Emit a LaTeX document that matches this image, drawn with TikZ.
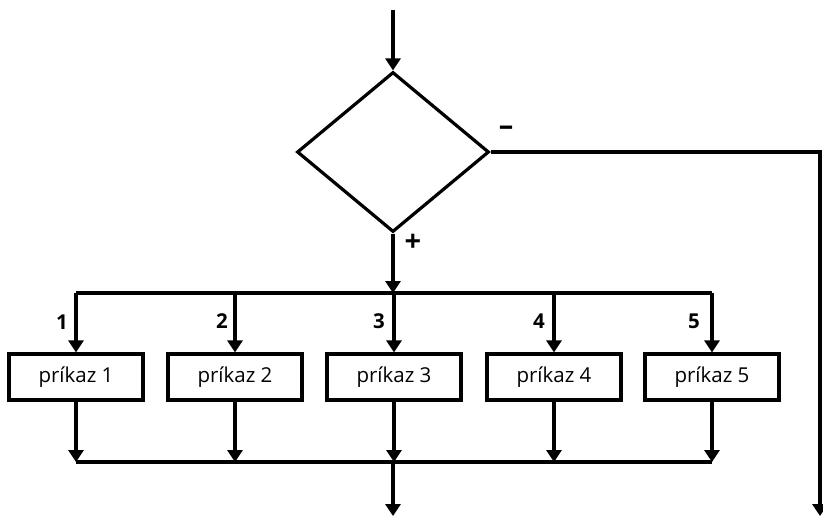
\documentclass[tikz,border=0pt]{standalone}
\usepackage{fontspec}
\setmainfont{Open Sans}
\usetikzlibrary{arrows.meta,shapes.geometric}
\begin{document}
\begin{tikzpicture}[x=1pt,y=-1pt,
  line width=3.2pt,
  arr/.style={-{Triangle[width=15pt,length=12pt]}},
  box/.style={draw,rectangle,minimum width=134pt,minimum height=46pt,inner sep=0pt,font=\fontsize{20.5}{24}\selectfont},
  lab/.style={font=\bfseries\fontsize{20.5}{24}\selectfont,inner sep=0pt},
  sign/.style={font=\bfseries\fontsize{29}{30}\selectfont,inner sep=0pt},
  dec/.style={draw,diamond,aspect=1.2,minimum width=192pt,minimum height=160pt,inner sep=0pt}]
\useasboundingbox (0,0) rectangle (823,517);
\coordinate (in) at (393,10);
\node[dec] (d) at (393,152) {};
\coordinate (top) at (393,293);
\coordinate (bot) at (393,462);
\coordinate (out) at (393,516);
\coordinate (rt) at (820,152);
\coordinate (rout) at (820,516);
\foreach \i/\x in {1/76,2/235,3/394,4/554,5/712}{
  \node[box] (p\i) at (\x,377) {príkaz \i};
  \coordinate (t\i) at (\x,293);
  \coordinate (b\i) at (\x,462);
}
\draw[arr] (in) -- (d.north);
\draw[arr] (d.south) -- (top);
\draw (t1) -- (t5);
\draw (b1) -- (b5);
\foreach \i in {1,...,5}{
  \draw[arr] (t\i) -- (p\i.north);
  \draw[arr] (p\i.south) -- (b\i);
}
\draw[arr] (bot) -- (out);
\draw[arr] (d.east) -- (rt) -- (rout);
\node[sign] (m) at (506,131) {–};
\node[sign] (pl) at (413,243) {+};
\node[lab] (l1) at (62,322) {1};
\node[lab] (l2) at (222,321) {2};
\node[lab] (l3) at (379,321) {3};
\node[lab] (l4) at (539,321) {4};
\node[lab] (l5) at (694,321) {5};
\end{tikzpicture}
\end{document}
